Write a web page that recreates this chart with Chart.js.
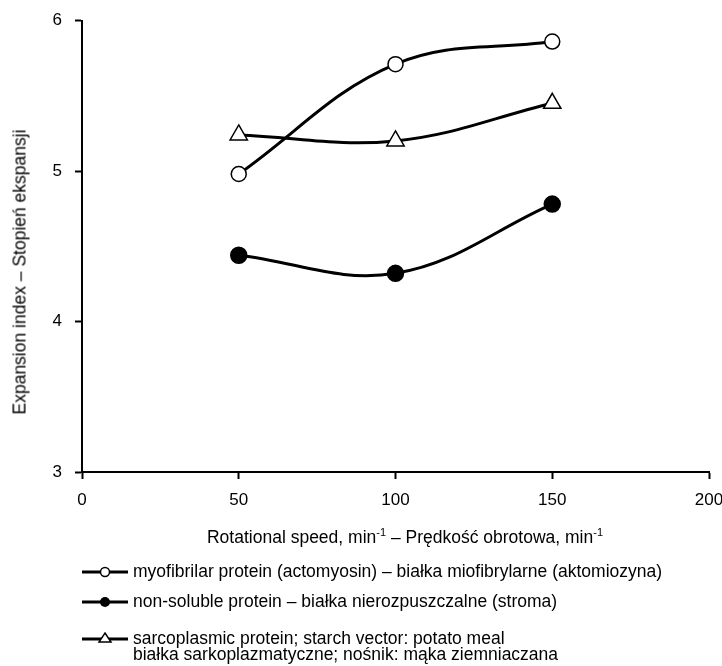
<!DOCTYPE html>
<html>
<head>
<meta charset="utf-8">
<script src="https://cdn.jsdelivr.net/npm/chart.js@4.4.1/dist/chart.umd.min.js"></script>
<style>
  body { margin: 0; background: #fff; font-family: "Liberation Sans", Arial, sans-serif; color: #000; }
  #wrap { position: relative; width: 722px; height: 666px; }
  #chart { position: absolute; left: 0; top: 0; }
  .txt { position: absolute; white-space: nowrap; font-size: 17.5px; line-height: 17px; }
  #ytitle { left: 20px; top: 272px; transform: translate(-50%, -50%) rotate(-90deg); }
  #xtitle { left: 405px; top: 537px; transform: translate(-50%, -50%); }
  sup { font-size: 11px; vertical-align: 7px; line-height: 0; }
  .leg { position: absolute; left: 82px; height: 20px; }
  .leg svg { position: absolute; left: 0; top: 0; }
  .leg span { position: absolute; left: 51px; top: 1px; font-size: 17.5px; line-height: 16px; white-space: nowrap; }
</style>
</head>
<body>
<div id="wrap">
  <canvas id="chart" width="722" height="666"></canvas>
  <div class="txt" id="ytitle">Expansion index – Stopień ekspansji</div>
  <div class="txt" id="xtitle">Rotational speed, min<sup>-1</sup> – Prędkość obrotowa, min<sup>-1</sup></div>
  <div id="legend"></div>
</div>
<script>
// Data
const speeds = [50, 100, 150];
const myofibrilar = [4.98, 5.71, 5.86];
const nonSoluble = [4.44, 4.32, 4.78];
const sarcoplasmic = [5.24, 5.2, 5.45];

const seriesLabels = [
    "myofibrilar protein (actomyosin) – białka miofibrylarne (aktomiozyna)",
    "non-soluble protein – białka nierozpuszczalne (stroma)",
    "sarcoplasmic protein; starch vector: potato meal",
    "białka sarkoplazmatyczne; nośnik: mąka ziemniaczana"
];
const xTicks = [0, 50, 100, 150, 200];
const yTicks = [3, 4, 5, 6];

const toPoints = vals => vals.map((v, i) => ({ x: speeds[i], y: v }));

const common = { borderColor: "#000", borderWidth: 3, tension: 0.38, pointBorderColor: "#000", pointBorderWidth: 1.5 };

new Chart(document.getElementById("chart"), {
    type: "line",
    data: {
        datasets: [
            { ...common, label: seriesLabels[0], data: toPoints(myofibrilar), pointStyle: "circle", pointRadius: 7.5, pointBackgroundColor: "#fff" },
            { ...common, label: seriesLabels[1], data: toPoints(nonSoluble), pointStyle: "circle", pointRadius: 8, pointBackgroundColor: "#000" },
            { ...common, label: seriesLabels[2], data: toPoints(sarcoplasmic), pointStyle: "triangle", pointRadius: 10, pointBackgroundColor: "#fff" }
        ]
    },
    options: {
        responsive: false,
        animation: false,
        layout: { padding: { top: 20.5, right: 13, left: 0, bottom: 0 } },
        plugins: { legend: { display: false }, tooltip: { enabled: false } },
        scales: {
            x: {
                type: "linear",
                min: xTicks[0], max: xTicks[xTicks.length - 1],
                afterBuildTicks: s => { s.ticks = xTicks.map(v => ({ value: v })); },
                afterFit: s => { s.height = 666 - 472; s.paddingLeft = 0; s.paddingRight = 0; },
                border: { color: "#000", width: 2 },
                grid: { drawOnChartArea: false, color: "#000", tickLength: 7, tickWidth: 2 },
                ticks: { color: "#000", padding: 11, maxRotation: 0, font: { family: "Liberation Sans", size: 17 } }
            },
            y: {
                min: yTicks[0], max: yTicks[yTicks.length - 1],
                afterBuildTicks: s => { s.ticks = yTicks.map(v => ({ value: v })); },
                afterFit: s => { s.width = 82; s.paddingTop = 0; s.paddingBottom = 0; },
                border: { color: "#000", width: 2 },
                grid: { drawOnChartArea: false, color: "#000", tickLength: 7, tickWidth: 2 },
                ticks: { color: "#000", padding: 13, font: { family: "Liberation Sans", size: 17 } }
            }
        }
    }
});

// Legend (line + marker, like the original)
const legendRows = [
    { top: 562, marker: "open", text: seriesLabels[0] },
    { top: 592, marker: "filled", text: seriesLabels[1] },
    { top: 629, marker: "triangle", text: seriesLabels[2] + "<br>" + seriesLabels[3] }
];
const legendEl = document.getElementById("legend");
legendRows.forEach(row => {
    const div = document.createElement("div");
    div.className = "leg";
    div.style.top = row.top + "px";
    let mark = "";
    if (row.marker === "open") mark = '<circle cx="23" cy="10" r="4.5" fill="#fff" stroke="#000" stroke-width="1.5"/>';
    if (row.marker === "filled") mark = '<circle cx="23" cy="10" r="5" fill="#000"/>';
    if (row.marker === "triangle") mark = '<polygon points="23,4 29,13 17,13" fill="#fff" stroke="#000" stroke-width="1.5"/>';
    div.innerHTML = '<svg width="48" height="20"><line x1="0" y1="10" x2="46" y2="10" stroke="#000" stroke-width="3"/>' + mark + '</svg>' +
        '<span>' + row.text + '</span>';
    legendEl.appendChild(div);
});
</script>
</body>
</html>
